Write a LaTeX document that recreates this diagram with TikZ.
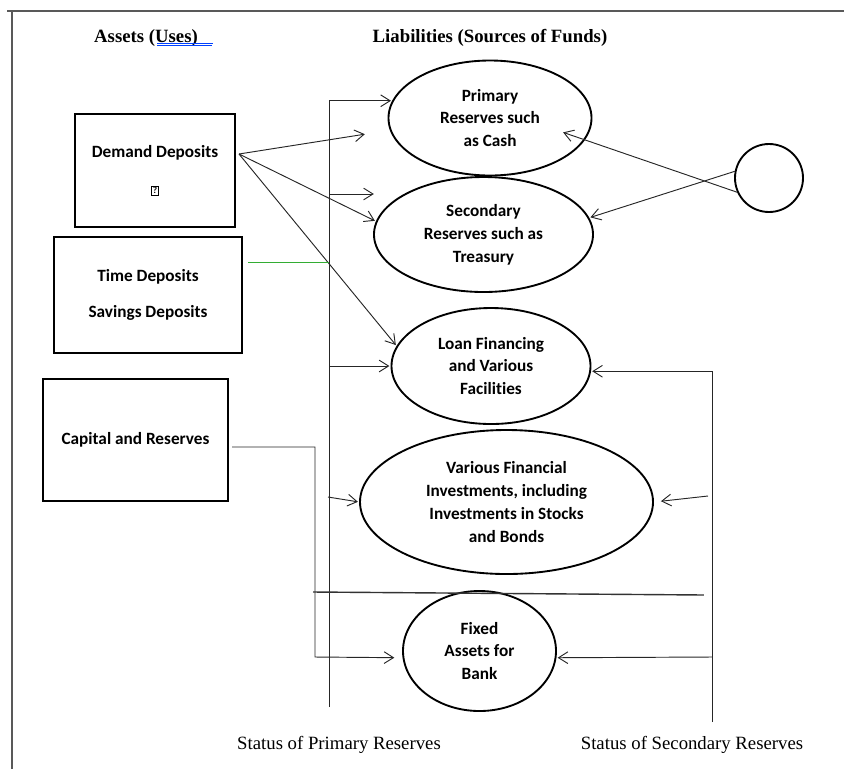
\documentclass[tikz,border=0pt]{standalone}
\usepackage{fontspec}
\setmainfont{Liberation Serif}
\newfontfamily\boxfont[Ligatures=NoCommon]{Carlito}
\usetikzlibrary{shapes.geometric,arrows.meta}
\newcommand{\nochar}{{\setlength{\fboxsep}{0.8pt}\setlength{\fboxrule}{0.5pt}\fbox{\fontsize{8}{8}\selectfont ?}}}
\tikzset{assetbox/.style={
  rectangle,
  draw,line width=2pt,
  inner sep=2pt,align=center,
  font=\boxfont\bfseries\fontsize{14.7}{19.6}\selectfont}}
\tikzset{liabnode/.style={
  ellipse,
  draw,line width=1.6pt,
  inner sep=0pt,align=center,
  font=\boxfont\bfseries\fontsize{14.7}{19.6}\selectfont}}
\tikzset{link/.style={line width=0.8pt,draw=black!85}}
\tikzset{heading/.style={font=\bfseries\fontsize{16}{19}\selectfont}}
\tikzset{statuslabel/.style={font=\fontsize{16}{19}\selectfont}}
\tikzset{>={Straight Barb[length=8pt,width=10pt]}}
\tikzset{shorten >=1pt}

\begin{document}
\begin{tikzpicture}[x={(0.03cm,0cm)},y={(0cm,-0.03cm)}]
  \useasboundingbox (0,0) rectangle (844,770);
  % frame
  \draw[black!65,line width=1.3pt] (7,11) -- (844,11) (12,11) -- (12,770);
  % headings
  \node[heading] (assets) at (146,38) {Assets (Uses)};
  \node[heading] (liab) at (490,38) {Liabilities (Sources of Funds)};
  \draw[blue!75!cyan,line width=0.5pt] (157,43.5) -- (213,43.5) (157,45.5) -- (213,45.5);
  % left column
  \node[assetbox,minimum width=4.8cm,minimum height=3.39cm] (demand) at (155,170.5)
    {Demand Deposits\\[11pt]\nochar};
  \node[assetbox,minimum width=5.64cm,minimum height=3.48cm] (timedep) at (148,295)
    {Time Deposits\\[11pt]Savings Deposits};
  \node[assetbox,minimum width=5.55cm,minimum height=3.66cm] (capital) at (135.5,440)
    {Capital and Reserves};
  % right column
  \node[liabnode,minimum width=6.09cm,minimum height=3.45cm] (prim) at (490,118)
    {Primary\\Reserves such\\as Cash};
  \node[liabnode,minimum width=6.57cm,minimum height=3.45cm] (second) at (483.5,234.5)
    {Secondary\\Reserves such as\\Treasury};
  \node[liabnode,minimum width=5.97cm,minimum height=3.48cm] (loan) at (491,366)
    {Loan Financing\\and Various\\Facilities};
  \node[liabnode,minimum width=8.79cm,minimum height=4.32cm] (invest) at (506.5,502)
    {Various Financial\\Investments, including\\Investments in Stocks\\and Bonds};
  \node[liabnode,minimum width=4.59cm,minimum height=3.6cm] (fixed) at (479.5,651)
    {Fixed\\Assets for\\Bank};
  \node[circle,draw,line width=1.6pt,inner sep=0pt,minimum size=2.04cm] (circ) at (769,178) {};
  % status labels
  \node[statuslabel] (pslabel) at (339,745) {Status of Primary Reserves};
  \node[statuslabel] (sslabel) at (692,745) {Status of Secondary Reserves};
  % free ends
  \coordinate (psbot) at (329,707);
  \coordinate (pb2) at (329,194);
  \coordinate (pb2end) at (375,194);
  \coordinate (pb3) at (329,366);
  \coordinate (pb4) at (328,497);
  \coordinate (ssbot) at (712,722);
  \coordinate (sb4) at (708,496);
  \coordinate (sb5) at (712,657);
  \coordinate (ddout) at (239,154);
  \coordinate (ddend) at (366,134);
  \coordinate (capout) at (232,447);
  \coordinate (capfoot) at (315,657);
  \coordinate (hl1) at (313,592);
  \coordinate (hl2) at (705,595);
  \coordinate (g1) at (248,262);
  \coordinate (g2) at (330,262);
  \coordinate (ctip) at (562,132);
  % primary reserves line
  \draw[link,->] (psbot) |- (prim.170);
  \draw[link,->] (pb2) -- (pb2end);
  \draw[link,->] (pb3) -- (loan.west);
  \draw[link,->] (pb4) -- (invest.west);
  % secondary reserves line
  \draw[link,->] (ssbot) |- (loan.-3);
  \draw[link,->,shorten >=6pt] (sb4) -- (invest.east);
  \draw[link,->] (sb5) -- (fixed.-5);
  % demand deposits
  \draw[link,->] (ddout) -- (ddend);
  \draw[link,->] (ddout) -- (second.173);
  \draw[link,->] (ddout) -- (loan.168);
  % capital
  \draw[link,->,shorten >=7pt] (capout) -| (capfoot) -- (fixed.185);
  \draw[link,line width=1.2pt,draw=black!80] (hl1) -- (hl2);
  \draw[green!60!black!80,line width=0.7pt] (g1) -- (g2);
  % circle
  \draw[link,->] (circ.204) -- (ctip);
  \draw[link,->] (circ.169) -- (second.9);
\end{tikzpicture}
\end{document}
